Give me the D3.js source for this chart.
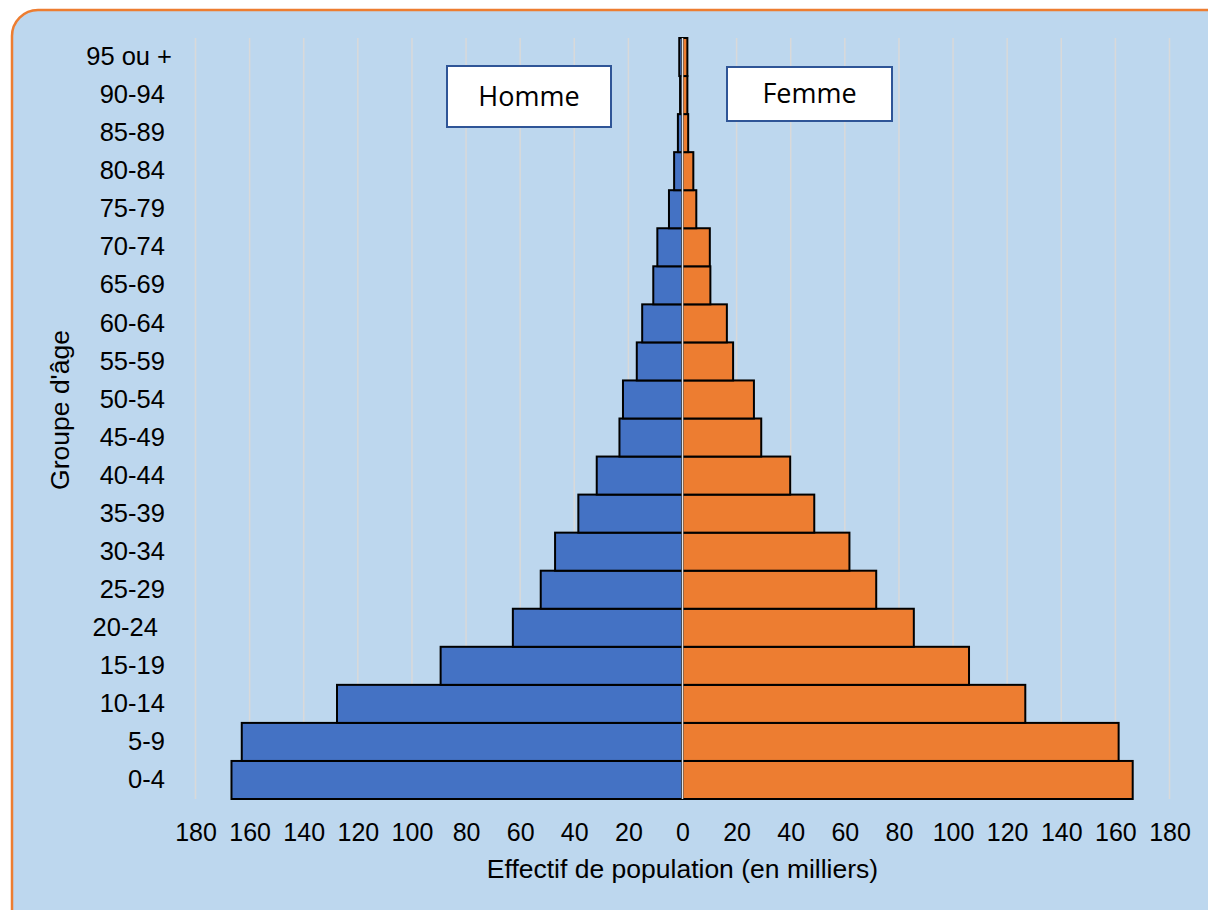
<!DOCTYPE html>
<html lang="fr">
<head>
<meta charset="UTF-8" />
<title>Pyramide des âges</title>
<script src="https://cdn.jsdelivr.net/npm/d3@7/dist/d3.min.js"></script>
<style>
  body { margin: 0; background: #ffffff; }
  svg text { font-family: "Liberation Sans", Arial, sans-serif; fill: #000; }
  .ylab { white-space: pre; }
</style>
</head>
<body>
<script>
// groupes d'âge, du bas vers le haut
var ages = ["0-4", "5-9", "10-14", "15-19", "20-24 ", "25-29", "30-34", "35-39",
            "40-44", "45-49", "50-54", "55-59", "60-64", "65-69", "70-74",
            "75-79", "80-84", "85-89", "90-94", "95 ou +"];
// effectifs en milliers
var hommes = [166.7, 162.9, 127.7, 89.4, 62.7, 52.4, 47.1, 38.5, 31.7, 23.3,
              22.0, 16.9, 14.9, 10.8, 9.3, 5.0, 3.1, 1.7, 0.9, 1.2];
var femmes = [166.4, 161.2, 126.7, 105.9, 85.5, 71.6, 61.7, 48.7, 39.8, 29.1,
              26.4, 18.7, 16.4, 10.3, 10.1, 5.1, 4.0, 2.1, 1.8, 1.8];
var xTicks = [-180, -160, -140, -120, -100, -80, -60, -40, -20, 0,
              20, 40, 60, 80, 100, 120, 140, 160, 180];

var width = 1208, height = 910;

var svg = d3.select("body").append("svg")
  .attr("width", width)
  .attr("height", height);

// cadre
svg.append("rect")
  .attr("x", 12).attr("y", 10)
  .attr("width", 1220).attr("height", 940)
  .attr("rx", 26).attr("ry", 26)
  .attr("fill", "#BDD7EE")
  .attr("stroke", "#ED7D31")
  .attr("stroke-width", 2.5);

var xScale = d3.scaleLinear().domain([-180, 180]).range([195.5, 1169.5]);
var yScale = d3.scaleBand().domain(ages.slice().reverse()).range([38, 799]).padding(0);

// grille
svg.selectAll(".grid")
  .data(xTicks.filter(function(d) { return d !== 0; }))
  .enter().append("line")
  .attr("x1", function(d) { return xScale(d); })
  .attr("x2", function(d) { return xScale(d); })
  .attr("y1", 38).attr("y2", 799)
  .attr("stroke", "#D9D9D9")
  .attr("stroke-width", 1.5);

var data = ages.map(function(a, i) { return { age: a, h: hommes[i], f: femmes[i] }; });

svg.selectAll(".hom")
  .data(data)
  .enter().append("rect")
  .attr("x", function(d) { return xScale(-d.h); })
  .attr("y", function(d) { return yScale(d.age); })
  .attr("width", function(d) { return xScale(0) - xScale(-d.h); })
  .attr("height", yScale.bandwidth())
  .attr("fill", "#4472C4")
  .attr("stroke", "#000")
  .attr("stroke-width", 2);

svg.selectAll(".fem")
  .data(data)
  .enter().append("rect")
  .attr("x", xScale(0))
  .attr("y", function(d) { return yScale(d.age); })
  .attr("width", function(d) { return xScale(d.f) - xScale(0); })
  .attr("height", yScale.bandwidth())
  .attr("fill", "#ED7D31")
  .attr("stroke", "#000")
  .attr("stroke-width", 2);

// axe vertical au zéro
svg.append("line")
  .attr("x1", xScale(0)).attr("x2", xScale(0))
  .attr("y1", 38).attr("y2", 799)
  .attr("stroke", "#E3E3E3")
  .attr("stroke-width", 1.5);

// axe x
var xAxis = d3.axisBottom(xScale)
  .tickValues(xTicks)
  .tickSize(0)
  .tickPadding(0)
  .tickFormat(function(d) { return Math.abs(d); });

var gx = svg.append("g")
  .attr("transform", "translate(0,832)")
  .call(xAxis);
gx.select(".domain").remove();
gx.selectAll("text")
  .attr("dy", "0.35em")
  .attr("y", 0)
  .style("font-size", "25px")
  .style("font-family", "'Liberation Sans', Arial, sans-serif");

// axe y
var yAxis = d3.axisLeft(yScale).tickSize(0).tickPadding(0);
var gy = svg.append("g")
  .attr("transform", "translate(172,0)")
  .call(yAxis);
gy.select(".domain").remove();
gy.selectAll("text")
  .attr("class", "ylab")
  .text(function(d) { return d === "95 ou +" ? d : d + " "; })
  .style("font-size", "25.5px")
  .style("font-family", "'Liberation Sans', Arial, sans-serif");

// titres des axes
svg.append("text")
  .attr("x", xScale(0)).attr("y", 869)
  .attr("text-anchor", "middle")
  .attr("dy", "0.35em")
  .style("font-size", "26.5px")
  .text("Effectif de population (en milliers)");

svg.append("text")
  .attr("transform", "translate(60,410) rotate(-90)")
  .attr("text-anchor", "middle")
  .attr("dy", "0.35em")
  .style("font-size", "26.5px")
  .text("Groupe d'âge");

// étiquettes Homme / Femme
var boxes = [
  { label: "Homme", x: 447, y: 66, w: 164, h: 61 },
  { label: "Femme", x: 727, y: 67, w: 165, h: 54 }
];
boxes.forEach(function(b) {
  svg.append("rect")
    .attr("x", b.x).attr("y", b.y)
    .attr("width", b.w).attr("height", b.h)
    .attr("fill", "#ffffff")
    .attr("stroke", "#2F5597")
    .attr("stroke-width", 2);
  svg.append("text")
    .attr("x", b.x + b.w / 2).attr("y", b.y + b.h / 2)
    .attr("text-anchor", "middle")
    .attr("dy", "0.35em")
    .style("font-family", "'Open Sans', sans-serif")
    .style("font-size", "27px")
    .text(b.label);
});
</script>
</body>
</html>
